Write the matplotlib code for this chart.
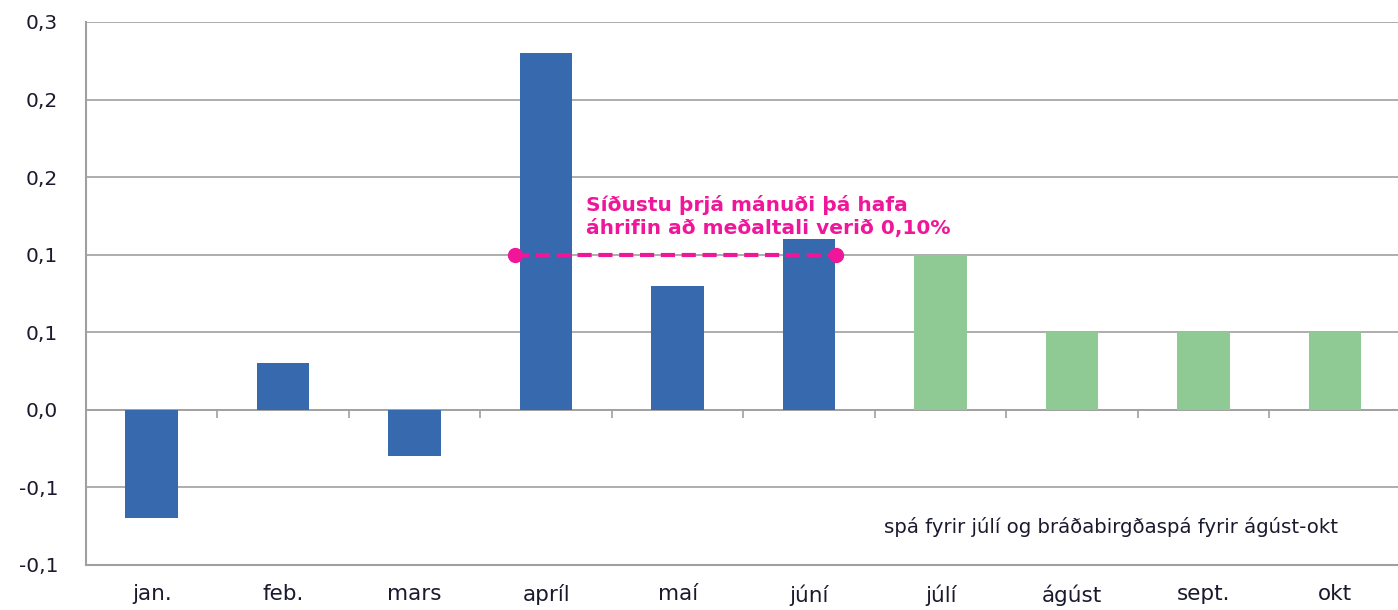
import matplotlib
matplotlib.use("Agg")
from matplotlib import pyplot as plt
from matplotlib.ticker import FuncFormatter
import numpy as np

# gögn
manudir = ['jan.', 'feb.', 'mars', 'apríl', 'maí', 'júní', 'júlí', 'ágúst', 'sept.', 'okt']
raun = [-0.07, 0.03, -0.03, 0.23, 0.08, 0.11]
spa = [0.10, 0.05, 0.05, 0.05]
medaltal = 0.10
y_ticks = [-0.10, -0.05, 0.0, 0.05, 0.10, 0.15, 0.20, 0.25]

blar = '#3669ad'
graenn = '#8fc994'
bleikur = '#f0169a'
grar = '#a0a0a0'
texti = '#1a1a2e'

plt.rcParams['font.family'] = ['DejaVu Sans']

fig = plt.figure(figsize=(13.98, 6.10), dpi=100)
ax = fig.add_axes([0.0615, 0.0738, 0.9405, 0.8902])

x = np.arange(len(manudir))
n_raun = len(raun)
ax.bar(x[:n_raun], raun, width=0.4, color=blar, zorder=3)
ax.bar(x[n_raun:], spa, width=0.4, color=graenn, zorder=3)

# meðaltal síðustu þriggja mánaða
ax.plot([x[3] - 0.235, x[5] + 0.205], [medaltal, medaltal], ls=(0, (3.4, 1.6)), lw=3,
        color=bleikur, marker='o', ms=10, zorder=4)
ax.text(x[3] + 0.3, 0.1105, 'Síðustu þrjá mánuði þá hafa\náhrifin að meðaltali verið 0,10%',
        color=bleikur, fontsize=14.5, fontweight='bold', ha='left', va='bottom', linespacing=1.3)

ax.text(x[9] + 0.02, -0.0755, 'spá fyrir júlí og bráðabirgðaspá fyrir ágúst-okt',
        fontsize=14.2, ha='right', va='center', color=texti)

ax.set_xlim(-0.5, 9.5)
ax.set_ylim(-0.1, 0.25)
ax.set_yticks(y_ticks)
ax.yaxis.set_major_formatter(FuncFormatter(lambda v, p: ('%.1f' % (np.round(v + 1e-9, 1) if v >= 0 else -np.round(-v + 1e-9, 1))).replace('.', ',')))
ax.grid(axis='y', color=grar, lw=1.2, zorder=0)
ax.set_xticks(x)
ax.set_xticklabels(manudir)
ax.tick_params(axis='x', length=0, pad=14, labelsize=15.5, labelcolor=texti)
ax.tick_params(axis='y', length=0, pad=20, labelsize=14.5, labelcolor=texti)

for s in ['top', 'right']:
    ax.spines[s].set_visible(False)
for s in ['left', 'bottom']:
    ax.spines[s].set_color(grar)
    ax.spines[s].set_linewidth(1.5)

# tick-merki á núlllínunni
y0, y1 = ax.get_ylim()
sec = ax.secondary_xaxis((0 - y0) / (y1 - y0))
sec.set_xticks(x[:-1] + 0.5)
sec.set_xticklabels([])
sec.tick_params(length=6, width=1.2, color=grar, direction='out')
sec.spines['bottom'].set_color(grar)
sec.spines['bottom'].set_linewidth(1.2)

fig.savefig('out.png', dpi=100)
